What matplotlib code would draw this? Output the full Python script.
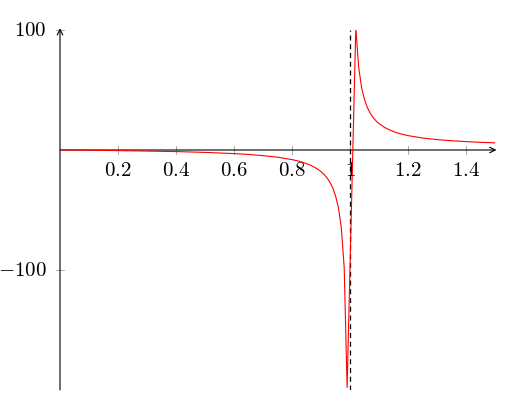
import matplotlib.pyplot as plt
import numpy as np

plt.rcParams['mathtext.fontset'] = 'cm'
plt.rcParams['font.family'] = 'serif'
plt.rcParams['font.serif'] = ['DejaVu Serif']

# values
x_vals = [0.0, 0.1, 0.2, 0.3, 0.4, 0.5, 0.6, 0.65, 0.7, 0.75, 0.8, 0.82, 0.84,
          0.86, 0.88, 0.89, 0.9, 0.91, 0.92, 0.93, 0.94, 0.95, 0.96, 0.97,
          0.98, 0.99,
          1.02, 1.03, 1.04, 1.05, 1.06, 1.07, 1.08, 1.09, 1.1, 1.12, 1.14,
          1.16, 1.18, 1.2, 1.25, 1.3, 1.35, 1.4, 1.45, 1.5]
y_vals = [0.0, -0.2, -0.5, -0.9, -1.3, -2.0, -3.0, -3.7, -4.7, -6.0, -8.0,
          -9.1, -10.5, -12.3, -14.7, -16.2, -18.0, -20.2, -23.0, -26.6, -31.3,
          -38.0, -48.0, -64.7, -98.0, -198.0,
          102.0, 68.7, 52.0, 42.0, 35.3, 30.6, 27.0, 24.2, 22.0, 18.7, 16.3,
          14.5, 13.1, 12.0, 10.0, 8.7, 7.7, 7.0, 6.4, 6.0]

x_ticks = [0.2, 0.4, 0.6, 0.8, 1.0, 1.2, 1.4]
x_labels = ['0.2', '0.4', '0.6', '0.8', '1', '1.2', '1.4']
y_ticks = [100, -100]
y_labels = ['100', '-100']
asymptote = 1.0

fig = plt.figure(figsize=(5.12, 4.07), dpi=100)
ax = fig.add_axes([60/512, 17/407, 435/512, 360/407])
ax.set_xlim(0, 1.5)
ax.set_ylim(-200, 100)

for s in ax.spines.values():
    s.set_visible(False)

# axis lines with arrows (pgfplots "middle" style)
ax.annotate('', xy=(1.505, 0), xytext=(0, 0),
            arrowprops=dict(arrowstyle='->', lw=0.8, color='black',
                            shrinkA=0, shrinkB=0), annotation_clip=False)
ax.annotate('', xy=(0, 101.5), xytext=(0, -200),
            arrowprops=dict(arrowstyle='->', lw=0.8, color='black',
                            shrinkA=0, shrinkB=0), annotation_clip=False)

ax.set_xticks([])
ax.set_yticks([])

# tick marks crossing the axes
for xt, lab in zip(x_ticks, x_labels):
    ax.plot([xt, xt], [-3.3, 3.3], color='#999999', lw=0.6, zorder=1)
    ax.text(xt, -17.5, '$' + lab + '$', ha='center', va='center', fontsize=15)
for yt, lab in zip(y_ticks, y_labels):
    ax.plot([-0.014, 0.014], [yt, yt], color='#999999', lw=0.6, zorder=1,
            clip_on=False)
    ax.text(-0.045, yt, '$' + lab + '$', ha='right', va='center', fontsize=15)

ax.axvline(asymptote, color='black', lw=0.9, ls=(0, (4, 3)), zorder=2)
ax.plot(x_vals, y_vals, color='red', lw=0.8, zorder=3)

fig.savefig('out.png', dpi=100)
